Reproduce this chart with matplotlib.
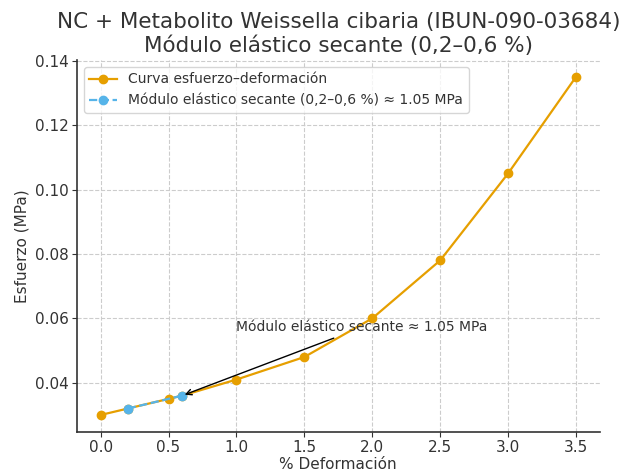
import matplotlib.pyplot as plt

deformacion = [0.0, 0.2, 0.5, 0.6, 1.0, 1.5, 2.0, 2.5, 3.0, 3.5]
esfuerzo = [0.030, 0.032, 0.035, 0.036, 0.041, 0.048, 0.060, 0.078, 0.105, 0.135]

sec_x = [0.2, 0.6]
sec_y = [0.032, 0.036]

orange = "#E69F00"
blue = "#56B4E9"

fig, ax = plt.subplots(figsize=(6.3, 4.72), dpi=100)

ax.plot(deformacion, esfuerzo, marker="o", color=orange, linewidth=1.6,
        markersize=6, label="Curva esfuerzo–deformación")
ax.plot(sec_x, sec_y, marker="o", linestyle="--", color=blue, linewidth=1.6,
        markersize=6, label="Módulo elástico secante (0,2–0,6 %) ≈ 1.05 MPa")

ax.annotate("Módulo elástico secante ≈ 1.05 MPa", xy=(0.6, 0.036),
            xytext=(1.0, 0.0572), fontsize=10, color="#333333",
            va="center", ha="left",
            arrowprops=dict(arrowstyle="->", color="black", lw=1))

ax.set_title("NC + Metabolito Weissella cibaria (IBUN-090-03684)\nMódulo elástico secante (0,2–0,6 %)",
             fontsize=15.5, color="#333333")
ax.set_xlabel("% Deformación", fontsize=11, color="#333333", labelpad=1)
ax.set_ylabel("Esfuerzo (MPa)", fontsize=11, color="#333333")

ax.grid(True, linestyle="--", color="#cccccc", linewidth=0.8)
ax.set_axisbelow(True)
for s in ["top", "right"]:
    ax.spines[s].set_visible(False)
for s in ["left", "bottom"]:
    ax.spines[s].set_color("#333333")
    ax.spines[s].set_linewidth(1.2)
ax.tick_params(labelsize=11, colors="#333333", pad=2.5)

ax.legend(loc="upper left", fontsize=10, labelcolor="#333333")

fig.subplots_adjust(left=0.122, right=0.952, top=0.873, bottom=0.085)
fig.savefig("out.png", dpi=100)
